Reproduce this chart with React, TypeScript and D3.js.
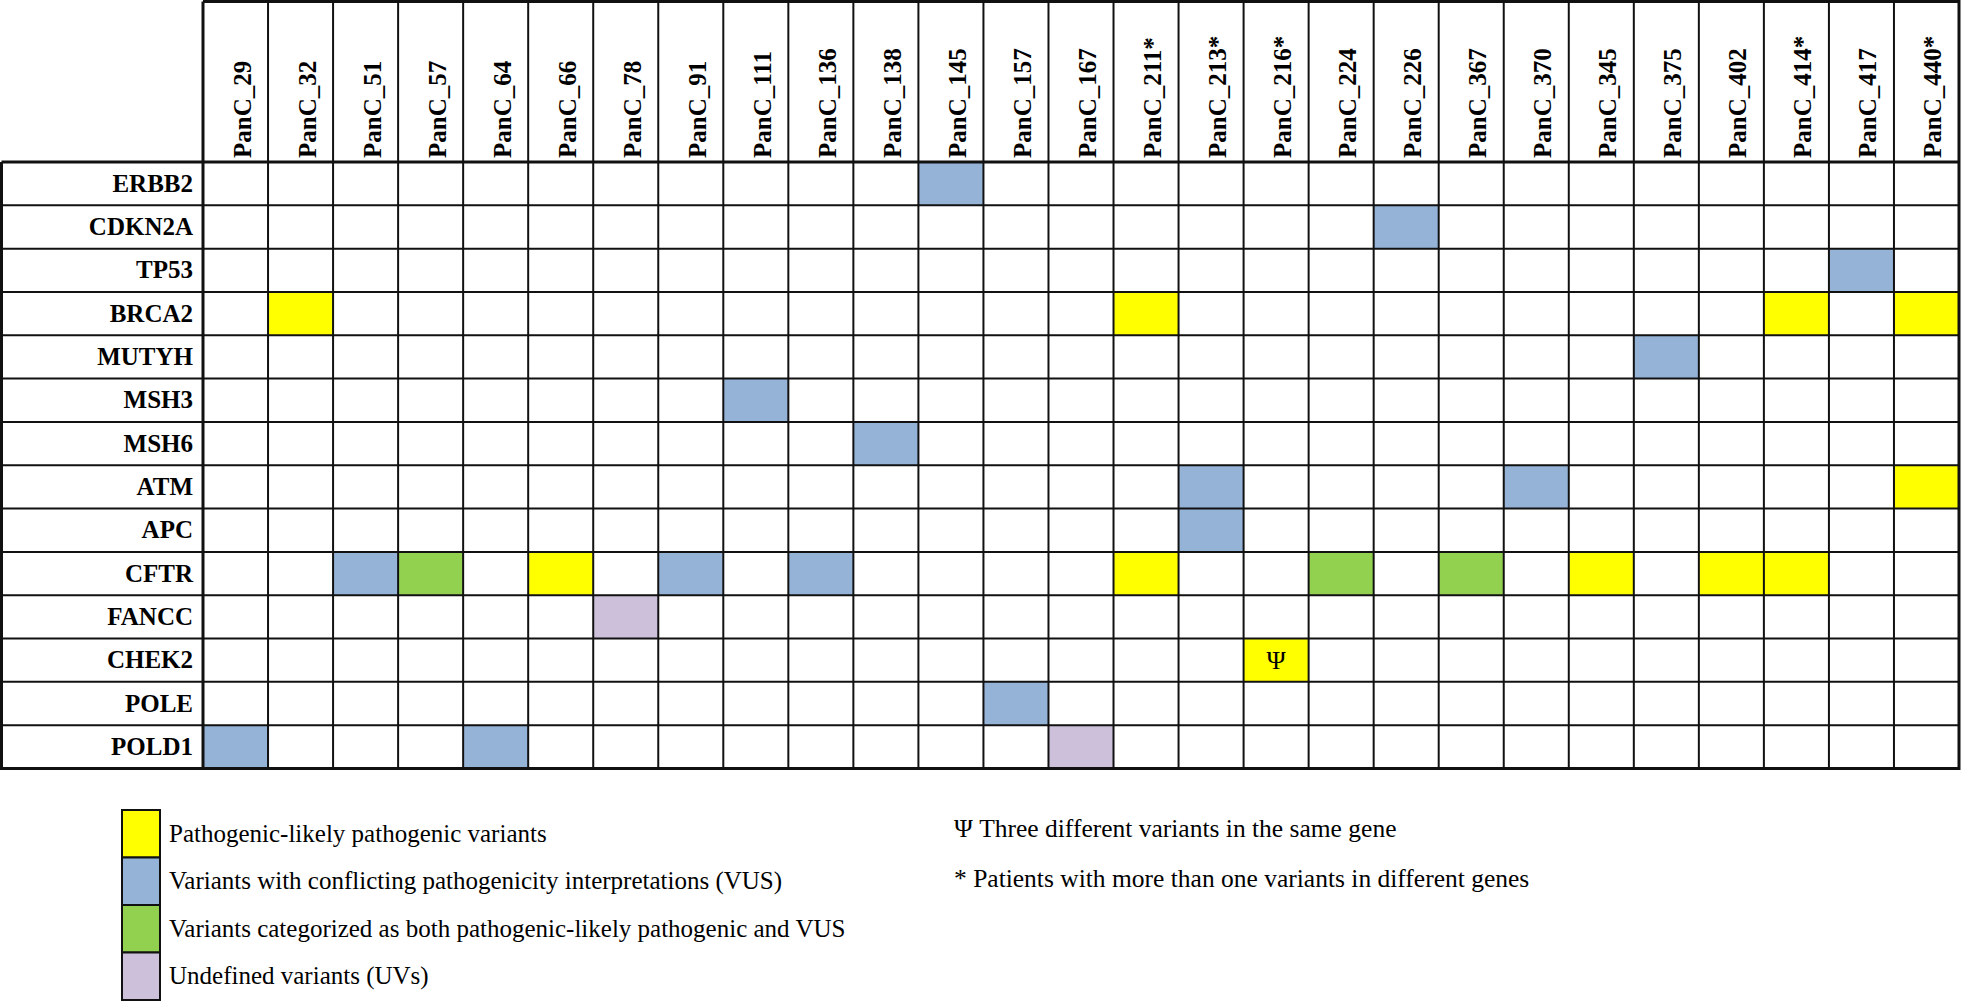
import { useEffect, useRef } from 'react'
import * as d3 from 'd3'

const patients = [
  'PanC_29', 'PanC_32', 'PanC_51', 'PanC_57', 'PanC_64', 'PanC_66', 'PanC_78', 'PanC_91',
  'PanC_111', 'PanC_136', 'PanC_138', 'PanC_145', 'PanC_157', 'PanC_167', 'PanC_211*',
  'PanC_213*', 'PanC_216*', 'PanC_224', 'PanC_226', 'PanC_367', 'PanC_370', 'PanC_345',
  'PanC_375', 'PanC_402', 'PanC_414*', 'PanC_417', 'PanC_440*',
]

const genes = [
  'ERBB2', 'CDKN2A', 'TP53', 'BRCA2', 'MUTYH', 'MSH3', 'MSH6', 'ATM', 'APC', 'CFTR',
  'FANCC', 'CHEK2', 'POLE', 'POLD1',
]

// P = pathogenic/likely pathogenic, V = VUS, B = both, U = undefined
type Cat = 'P' | 'V' | 'B' | 'U'
type Cell = { gene: string; patient: string; cat: Cat; mark?: string }

const cells: Cell[] = [
  { gene: 'ERBB2', patient: 'PanC_145', cat: 'V' },
  { gene: 'CDKN2A', patient: 'PanC_226', cat: 'V' },
  { gene: 'TP53', patient: 'PanC_417', cat: 'V' },
  { gene: 'BRCA2', patient: 'PanC_32', cat: 'P' },
  { gene: 'BRCA2', patient: 'PanC_211*', cat: 'P' },
  { gene: 'BRCA2', patient: 'PanC_414*', cat: 'P' },
  { gene: 'BRCA2', patient: 'PanC_440*', cat: 'P' },
  { gene: 'MUTYH', patient: 'PanC_375', cat: 'V' },
  { gene: 'MSH3', patient: 'PanC_111', cat: 'V' },
  { gene: 'MSH6', patient: 'PanC_138', cat: 'V' },
  { gene: 'ATM', patient: 'PanC_213*', cat: 'V' },
  { gene: 'ATM', patient: 'PanC_370', cat: 'V' },
  { gene: 'ATM', patient: 'PanC_440*', cat: 'P' },
  { gene: 'APC', patient: 'PanC_213*', cat: 'V' },
  { gene: 'CFTR', patient: 'PanC_51', cat: 'V' },
  { gene: 'CFTR', patient: 'PanC_57', cat: 'B' },
  { gene: 'CFTR', patient: 'PanC_66', cat: 'P' },
  { gene: 'CFTR', patient: 'PanC_91', cat: 'V' },
  { gene: 'CFTR', patient: 'PanC_136', cat: 'V' },
  { gene: 'CFTR', patient: 'PanC_211*', cat: 'P' },
  { gene: 'CFTR', patient: 'PanC_224', cat: 'B' },
  { gene: 'CFTR', patient: 'PanC_367', cat: 'B' },
  { gene: 'CFTR', patient: 'PanC_345', cat: 'P' },
  { gene: 'CFTR', patient: 'PanC_402', cat: 'P' },
  { gene: 'CFTR', patient: 'PanC_414*', cat: 'P' },
  { gene: 'FANCC', patient: 'PanC_78', cat: 'U' },
  { gene: 'CHEK2', patient: 'PanC_216*', cat: 'P', mark: 'Ψ' },
  { gene: 'POLE', patient: 'PanC_157', cat: 'V' },
  { gene: 'POLD1', patient: 'PanC_29', cat: 'V' },
  { gene: 'POLD1', patient: 'PanC_64', cat: 'V' },
  { gene: 'POLD1', patient: 'PanC_167', cat: 'U' },
]

const catKeys: Cat[] = ['P', 'V', 'B', 'U']
const catColors = ['#ffff00', '#95b3d7', '#92d050', '#ccc0da']
const catLabels = [
  'Pathogenic-likely pathogenic variants',
  'Variants with conflicting pathogenicity interpretations (VUS)',
  'Variants categorized as both pathogenic-likely pathogenic and VUS',
  'Undefined variants (UVs)',
]
const notes = [
  'Ψ Three different variants in the same gene',
  '* Patients with more than one variants in different genes',
]

const W = 1961
const H = 1002
const FONT = '"Liberation Serif", "Times New Roman", serif'

export default function App() {
  const ref = useRef<SVGSVGElement | null>(null)

  useEffect(() => {
    const svg = d3.select(ref.current)
    svg.selectAll('*').remove()

    const left = 1.5
    const top = 1.5
    const labelRight = 203
    const right = 1959
    const headBottom = 162
    const bottom = 768.5

    const x = d3.scaleBand<string>().domain(patients).range([labelRight, right])
    const y = d3.scaleBand<string>().domain(genes).range([headBottom, bottom])
    const color = d3.scaleOrdinal<Cat, string>().domain(catKeys).range(catColors)

    svg.append('rect').attr('width', W).attr('height', H).attr('fill', '#fff')

    const g = svg.append('g')

    // filled cells
    g.selectAll('rect.cell')
      .data(cells)
      .enter()
      .append('rect')
      .attr('class', 'cell')
      .attr('x', (d) => x(d.patient)!)
      .attr('y', (d) => y(d.gene)!)
      .attr('width', x.bandwidth())
      .attr('height', y.bandwidth())
      .attr('fill', (d) => color(d.cat))

    g.selectAll('text.mark')
      .data(cells.filter((d) => d.mark))
      .enter()
      .append('text')
      .attr('class', 'mark')
      .attr('x', (d) => x(d.patient)! + x.bandwidth() / 2)
      .attr('y', (d) => y(d.gene)! + y.bandwidth() / 2 + 9)
      .attr('text-anchor', 'middle')
      .style('font-family', FONT)
      .style('font-size', '26px')
      .text((d) => d.mark!)

    // grid lines
    const lineColor = '#111'
    patients.slice(1).forEach((p) => {
      g.append('line')
        .attr('x1', x(p)!).attr('x2', x(p)!)
        .attr('y1', top).attr('y2', bottom)
        .attr('stroke', lineColor).attr('stroke-width', 2)
    })
    genes.slice(1).forEach((gn) => {
      g.append('line')
        .attr('x1', left).attr('x2', right)
        .attr('y1', y(gn)!).attr('y2', y(gn)!)
        .attr('stroke', lineColor).attr('stroke-width', 2)
    })
    // thick separators and frame
    g.append('line')
      .attr('x1', left).attr('x2', right)
      .attr('y1', headBottom).attr('y2', headBottom)
      .attr('stroke', lineColor).attr('stroke-width', 3)
    g.append('line')
      .attr('x1', labelRight).attr('x2', labelRight)
      .attr('y1', top).attr('y2', bottom)
      .attr('stroke', lineColor).attr('stroke-width', 3)
    g.append('path')
      .attr('d', `M${labelRight},${top}H${right}V${bottom}H${left}V${headBottom}`)
      .attr('fill', 'none')
      .attr('stroke', lineColor)
      .attr('stroke-width', 3)

    // column headers
    g.selectAll('text.col')
      .data(patients)
      .enter()
      .append('text')
      .attr('class', 'col')
      .attr('transform', (d) => `translate(${x(d)! + x.bandwidth() / 2 + 15},${headBottom - 4}) rotate(-90)`)
      .style('font-family', FONT)
      .style('font-weight', 'bold')
      .style('font-size', '25px')
      .text((d) => d)

    // row labels
    g.selectAll('text.row')
      .data(genes)
      .enter()
      .append('text')
      .attr('class', 'row')
      .attr('x', 193)
      .attr('y', (d) => y(d)! + y.bandwidth() / 2 + 8)
      .attr('text-anchor', 'end')
      .style('font-family', FONT)
      .style('font-weight', 'bold')
      .style('font-size', '25px')
      .text((d) => d)

    // legend
    const ly = d3.scaleBand<string>().domain(catKeys).range([810, 1000])
    const leg = svg.append('g')
    leg.selectAll('rect')
      .data(catKeys)
      .enter()
      .append('rect')
      .attr('x', 122)
      .attr('y', (d) => ly(d)!)
      .attr('width', 38)
      .attr('height', ly.bandwidth())
      .attr('fill', (d) => color(d))
      .attr('stroke', '#111')
      .attr('stroke-width', 2)
    leg.selectAll('text')
      .data(catKeys)
      .enter()
      .append('text')
      .attr('x', 169)
      .attr('y', (d) => ly(d)! + ly.bandwidth() / 2 + 8)
      .style('font-family', FONT)
      .style('font-size', '25px')
      .text((d, i) => catLabels[i])

    svg.append('g')
      .selectAll('text')
      .data(notes)
      .enter()
      .append('text')
      .attr('x', 954)
      .attr('y', (d, i) => 837 + i * 50)
      .style('font-family', FONT)
      .style('font-size', '25.5px')
      .text((d) => d)
  }, [])

  return (
    <svg
      ref={ref}
      width={W}
      height={H}
      style={{ position: 'absolute', left: 0, top: 0, display: 'block' }}
    />
  )
}
